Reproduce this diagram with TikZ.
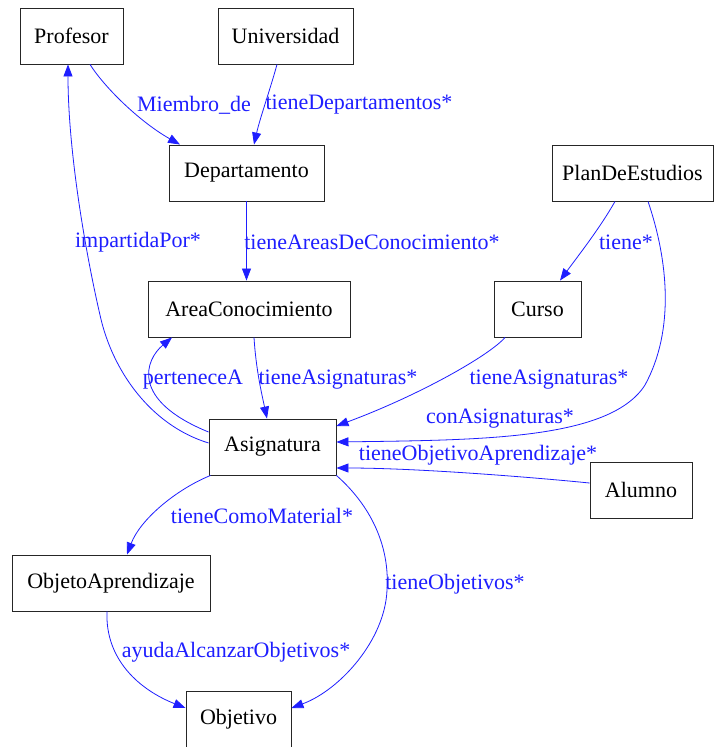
\documentclass[tikz,border=0pt]{standalone}
\usepackage{fontspec}
\setmainfont{Liberation Serif}
\usetikzlibrary{arrows.meta,calc}
\definecolor{edgeblue}{RGB}{30,30,255}
\tikzset{
  box/.style={draw=black!85, line width=0.9pt, minimum height=56pt, inner sep=0pt,
    font=\fontsize{22}{25}\selectfont, text=black},
  rel/.style={draw=edgeblue, line width=0.8pt, -{Triangle[length=12pt,width=9pt]}},
  lbl/.style={text=edgeblue, inner sep=0pt, font=\fontsize{22}{25}\selectfont},
}
\begin{document}
\begin{tikzpicture}[x=1pt,y=-1pt]
\useasboundingbox[fill=white] (0,0) rectangle (714,747);

% classes
\node[box, minimum width=103pt] (prof)     at (71.5,36)  {Profesor};
\node[box, minimum width=135pt] (univ)     at (285.5,36) {Universidad};
\node[box, minimum width=155pt] (dep)      at (246.5,173) {Departamento};
\node[box, minimum width=161pt] (plan)     at (632.5,173) {PlanDeEstudios};
\node[box, minimum width=202pt] (area)     at (249,309)  {AreaConocimiento};
\node[box, minimum width=87pt]  (curso)    at (537.5,309) {Curso};
\node[box, minimum width=127pt] (asig)     at (272.5,447) {Asignatura};
\node[box, minimum width=102pt] (alumno)   at (641,490)  {Alumno};
\node[box, minimum width=198pt] (objap)    at (111,583)  {ObjetoAprendizaje};
\node[box, minimum width=105pt] (objetivo) at (238.5,719) {Objetivo};

% relations
\draw[rel] ($(prof.south)+(18.5,0)$) .. controls (105,88) and (140,122) .. ($(dep.north)+(-66.5,0)$);
\draw[rel] ($(univ.south)+(-8.5,0)$) .. controls (270,90) and (260,118) .. ($(dep.north)+(7.5,0)$);
\draw[rel] (dep.south) -- (dep.south |- area.north);
\draw[rel] ($(asig.west)+(0,-4)$) .. controls (150,425) and (112,370) .. (100,315)
           .. controls (85,250) and (68,150) .. ($(prof.south)+(-3.5,0)$);
\draw[rel] ($(asig.west)+(0,-15)$) .. controls (130,400) and (145,360) .. ($(area.south)+(-77,0)$);
\draw[rel] ($(area.south)+(5,0)$) .. controls (256,370) and (262,395) .. ($(asig.north)+(-5.5,0)$);
\draw[rel] ($(curso.south)+(-32.5,0)$) .. controls (490,355) and (420,395) .. ($(asig.east)+(0,-21)$);
\draw[rel] ($(plan.south)+(-17.5,0)$) .. controls (600,228) and (578,256) .. ($(curso.north)+(22.5,0)$);
\draw[rel] ($(plan.south)+(15.5,0)$) .. controls (668,260) and (675,330) .. (645,385)
           .. controls (610,440) and (480,440) .. ($(asig.east)+(0,-5)$);
\draw[rel] ($(alumno.west)+(0,-7)$) .. controls (540,478) and (420,468) .. ($(asig.east)+(0,21)$);
\draw[rel] ($(asig.south)+(-62,0)$) .. controls (175,490) and (140,520) .. ($(objap.north)+(16,0)$);
\draw[rel] (asig.south east) .. controls (370,505) and (390,545) .. (387,590)
           .. controls (385,640) and (340,690) .. ($(objetivo.east)+(0,-11)$);
\draw[rel] ($(objap.south)+(-4,0)$) .. controls (105,660) and (140,690) .. ($(objetivo.west)+(0,-11)$);

% relation names
\node[lbl] (lMiembro)  at (194,105) {Miembro\_de};
\node[lbl] (lDeps)     at (359,105) {tieneDepartamentos*};
\node[lbl] (lImparte)  at (138,242) {impartidaPor*};
\node[lbl] (lAreas)    at (372,242) {tieneAreasDeConocimiento*};
\node[lbl] (lTiene)    at (626,242) {tiene*};
\node[lbl] (lPertenece) at (193,380) {perteneceA};
\node[lbl] (lAsigA)    at (338,380) {tieneAsignaturas*};
\node[lbl] (lAsigC)    at (549,380) {tieneAsignaturas*};
\node[lbl] (lCon)      at (500,419) {conAsignaturas*};
\node[lbl] (lObjAp)    at (478,455) {tieneObjetivoAprendizaje*};
\node[lbl] (lMaterial) at (262,516) {tieneComoMaterial*};
\node[lbl] (lObjs)     at (455,584) {tieneObjetivos*};
\node[lbl] (lAyuda)    at (236,652) {ayudaAlcanzarObjetivos*};
\end{tikzpicture}
\end{document}
